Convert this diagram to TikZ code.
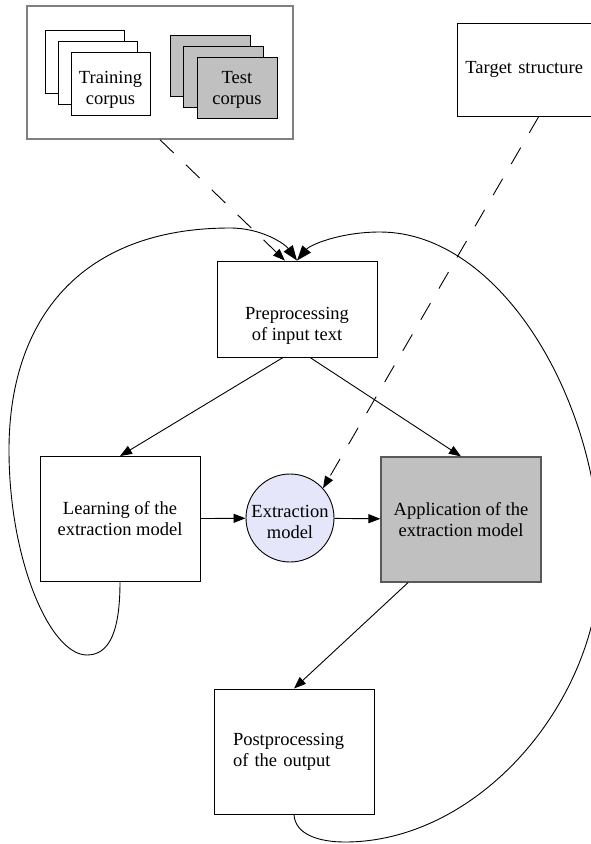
\documentclass[tikz,border=0pt]{standalone}
\usepackage{fontspec}
\setmainfont{Liberation Serif}
\usetikzlibrary{shapes,arrows.meta,positioning,calc}
\definecolor{docgray}{HTML}{C0C0C0}
\definecolor{framegray}{HTML}{808080}
\definecolor{modelblue}{HTML}{E6E6FA}
\newcommand{\boxfont}{\fontsize{18.5}{21}\selectfont}

\begin{document}
\begin{tikzpicture}[x=1pt,y=-1pt,line width=0.9pt,
  stepbox/.style={draw,minimum width=160pt,minimum height=125pt,align=center,font=\boxfont,inner sep=0pt},
  doc/.style={draw,fill=white,minimum width=79pt,minimum height=63pt,inner sep=0pt},
  testdoc/.style={doc,fill=docgray,minimum width=80pt,minimum height=61pt},
  caption/.style={font=\boxfont,align=center,inner sep=0pt},
  flow/.style={-{Triangle[length=12pt,width=9pt]}},
  loop/.style={-{Triangle[length=15pt,width=11pt]}},
  feed/.style={flow,dash pattern=on 19pt off 17pt}]
  \useasboundingbox (0,0) rectangle (591,844);
  \clip (0,0) rectangle (591,844);

  % Corpora
  \node[draw=framegray,line width=1.5pt,minimum width=266pt,minimum height=133pt] (corpus) at (160,72.5) {};
  \node[doc] (train3) at (84.5,61.5) {};
  \node[doc] (train2) at (97.5,72.5) {};
  \node[doc] (train1) at (110.5,83.5) {};
  \node[caption] (traintext) at (110.5,90) {Training\\corpus};
  \node[testdoc] (test3) at (210,65.5) {};
  \node[testdoc] (test2) at (223.5,76.5) {};
  \node[testdoc] (test1) at (237,87.5) {};
  \node[caption] (testtext) at (237,90) {Test\\corpus};

  % Target structure
  \node[draw,font=\boxfont,text width=125pt,align=left,inner xsep=8pt,minimum height=93pt,anchor=west] (target) at (457,69.5) {Target structure};

  % Processing steps
  \node[stepbox,minimum height=96pt] (preproc) at (297,309) {};
  \node[caption] (preproctext) at (297,326) {Preprocessing\\of input text};
  \node[stepbox] (learn) at (120,519) {Learning of the\\extraction model};
  \node[circle,draw,fill=modelblue,minimum size=88pt,inner sep=0pt,font=\boxfont,align=center] (extract) at (290,518) {};
  \node[caption] (extracttext) at (290,522) {Extraction\\model};
  \node[stepbox,fill=docgray,draw=black!65,line width=1.2pt] (app) at (461,519.5) {Application of the\\extraction model};
  \node[stepbox,align=left,text width=122pt,inner xsep=19pt] (post) at (294,751.5) {Postprocessing\\of the output};

  % Flow
  \draw[flow] (preproc.254) -- (learn.north);
  \draw[flow] (preproc.285) -- (app.north);
  \draw[flow] (learn) -- (extract);
  \draw[flow] (extract) -- (app);
  \draw[flow] (app.230) -- (post.north);

  % Inputs
  \draw[feed] (corpus.south) -- (preproc.104);
  \draw[feed] (target.283) -- (extract.42);

  % Feedback loops
  \draw[loop] (learn.south) .. controls (120,630) and (110,655) .. (87,655)
    .. controls (50,655) and (9,560) .. (9,450)
    .. controls (9,320) and (80,228) .. (230,228)
    .. controls (262,228) and (285,244) .. (preproc.north);
  \draw[loop] (post.south) .. controls (295,835) and (320,842) .. (345,842)
    .. controls (480,842) and (600,700) .. (600,560)
    .. controls (600,400) and (500,232) .. (380,232)
    .. controls (340,232) and (310,245) .. (preproc.north);
\end{tikzpicture}
\end{document}
